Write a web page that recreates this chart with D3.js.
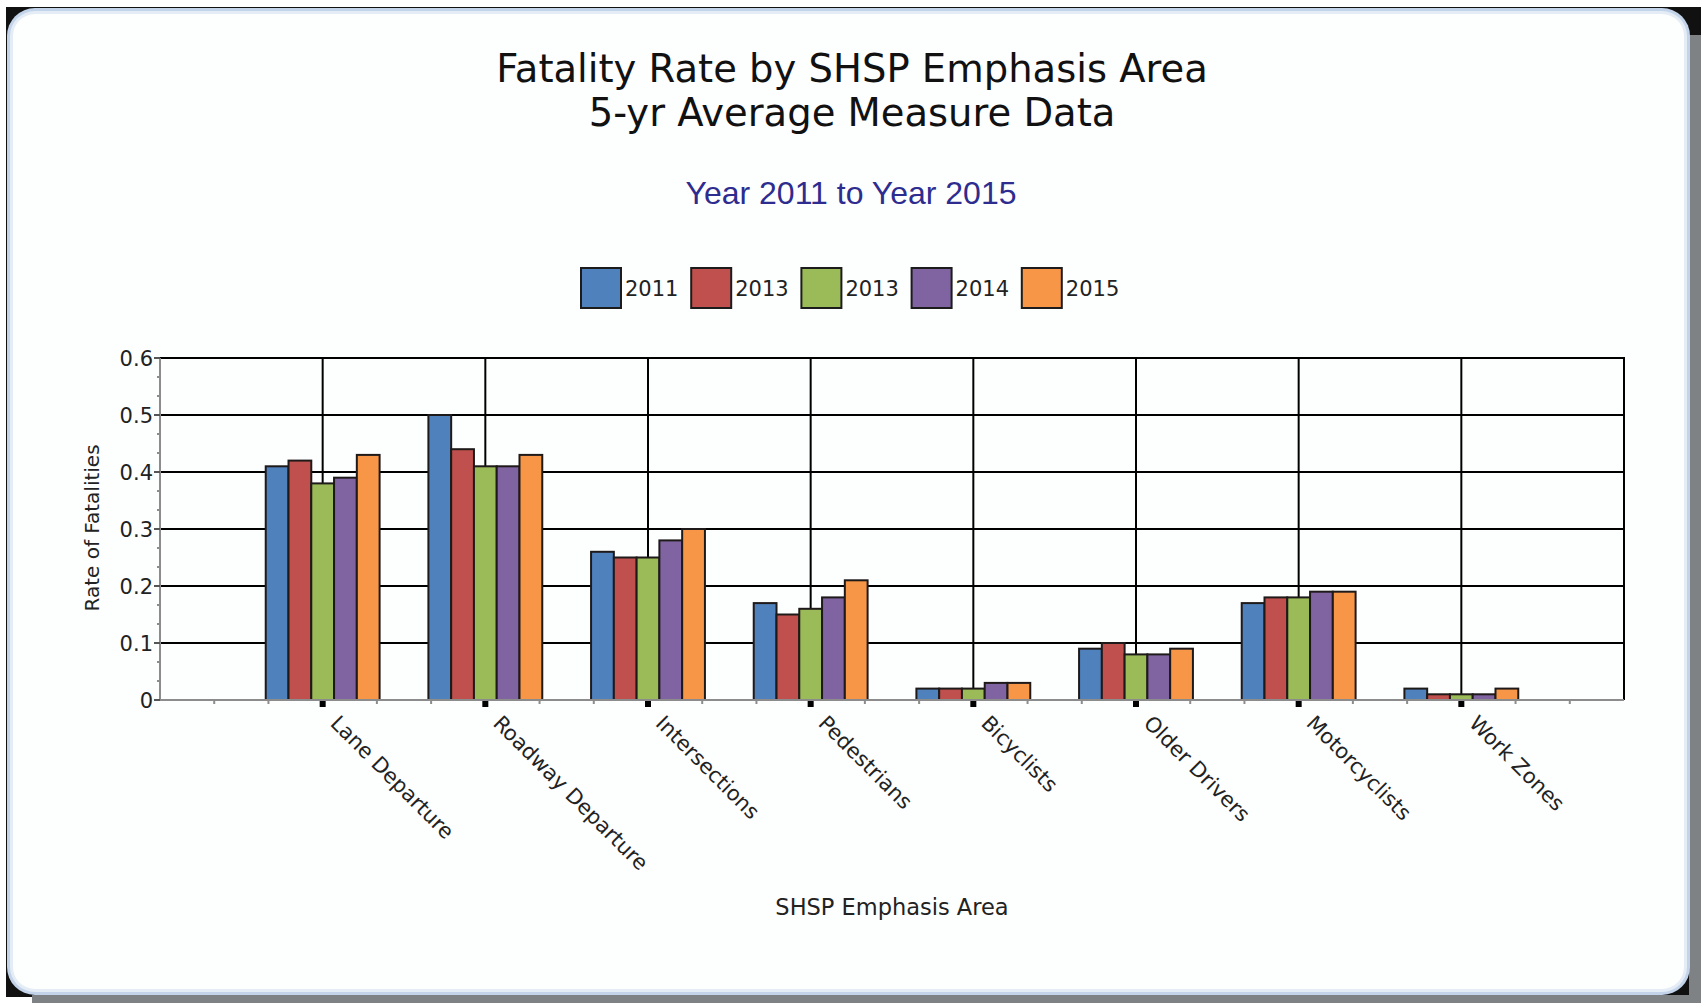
<!DOCTYPE html>
<html>
<head>
  <title>Fatality Rate by SHSP Emphasis Area</title>
  <style type="text/css">
    html, body { margin: 0; padding: 0; background: #fff; overflow: hidden; width: 1701px; height: 1003px; }
    svg { display: block; }
    .tick-label { font-family: "DejaVu Sans", sans-serif; fill: #222; }
  </style>
  <script src="https://d3js.org/d3.v7.min.js"></script>
</head>
<body>
<script>
// chart data
var categories = ["Lane Departure", "Roadway Departure", "Intersections", "Pedestrians",
                  "Bicyclists", "Older Drivers", "Motorcyclists", "Work Zones"];
var seriesNames = ["2011", "2013", "2013", "2014", "2015"];   // legend text as shown
var seriesColors = ["#4f81bd", "#c0504d", "#9bbb59", "#8064a2", "#f79646"];
var v2011 = [0.41, 0.50, 0.26, 0.17, 0.02, 0.09, 0.17, 0.02];
var v2012 = [0.42, 0.44, 0.25, 0.15, 0.02, 0.10, 0.18, 0.01];
var v2013 = [0.38, 0.41, 0.25, 0.16, 0.02, 0.08, 0.18, 0.01];
var v2014 = [0.39, 0.41, 0.28, 0.18, 0.03, 0.08, 0.19, 0.01];
var v2015 = [0.43, 0.43, 0.30, 0.21, 0.03, 0.09, 0.19, 0.02];
var yTicks = [0, 0.1, 0.2, 0.3, 0.4, 0.5, 0.6];

var seriesValues = [v2011, v2012, v2013, v2014, v2015];

var W = 1701, H = 1003;
var svg = d3.select("body").append("svg").attr("width", W).attr("height", H);

// frame / rounded panel: dark corners, gray shadow bottom + right
svg.append("rect").attr("x", 6).attr("y", 7).attr("width", 1684).attr("height", 990).attr("fill", "#111");
svg.append("rect").attr("x", 1660).attr("y", 7).attr("width", W - 1660).attr("height", 28).attr("fill", "#111");
svg.append("rect").attr("x", 32).attr("y", 995).attr("width", W - 32).attr("height", 8).attr("fill", "#7e8284");
svg.append("rect").attr("x", 1689).attr("y", 35).attr("width", 12).attr("height", H - 35).attr("fill", "#7e8284");
svg.append("rect").attr("x", 7).attr("y", 8).attr("width", 1683).attr("height", 987)
   .attr("rx", 28).attr("fill", "#c3d4ea");
svg.append("rect").attr("x", 10).attr("y", 11).attr("width", 1677).attr("height", 981)
   .attr("rx", 25).attr("fill", "#e4ecf6");
svg.append("rect").attr("x", 13).attr("y", 14).attr("width", 1671).attr("height", 975)
   .attr("rx", 22).attr("fill", "#fdfefe");

// titles
svg.append("text").attr("x", 852).attr("y", 82).attr("text-anchor", "middle")
   .style("font-family", "DejaVu Sans").style("font-size", "38.5px").attr("fill", "#111")
   .text("Fatality Rate by SHSP Emphasis Area");
svg.append("text").attr("x", 852).attr("y", 126).attr("text-anchor", "middle")
   .style("font-family", "DejaVu Sans").style("font-size", "38.5px").attr("fill", "#111")
   .text("5-yr Average Measure Data");
svg.append("text").attr("x", 851).attr("y", 204).attr("text-anchor", "middle")
   .style("font-family", "Liberation Sans").style("font-size", "32px").attr("fill", "#2e2c8f")
   .text("Year 2011 to Year 2015");

// legend
var legend = svg.append("g").selectAll("g")
    .data(seriesNames)
    .enter().append("g")
    .attr("transform", function(d, i) { return "translate(" + (581 + i * 110.2) + ",268)"; });
legend.append("rect").attr("width", 40).attr("height", 40)
    .attr("fill", function(d, i) { return seriesColors[i]; })
    .attr("stroke", "#1c1c1c").attr("stroke-width", 2);
legend.append("text").attr("x", 44).attr("y", 28)
    .style("font-family", "DejaVu Sans").style("font-size", "21px").attr("fill", "#222")
    .text(function(d) { return d; });

// scales
var plotLeft = 160, plotRight = 1624, plotTop = 358, plotBottom = 700;
var x = d3.scalePoint().domain(categories).range([plotLeft, plotRight]).padding(1);
var step = x.step();
var x1 = d3.scaleBand().domain(d3.range(seriesNames.length)).range([-0.35 * step, 0.35 * step]);
var y = d3.scaleLinear().domain([0, 0.6]).range([plotBottom, plotTop]);

// grid lines
svg.append("g").selectAll("line").data(yTicks.slice(1)).enter().append("line")
   .attr("x1", plotLeft).attr("x2", plotRight)
   .attr("y1", function(d) { return y(d); }).attr("y2", function(d) { return y(d); })
   .attr("stroke", "#000").attr("stroke-width", 2);
svg.append("g").selectAll("line").data(categories).enter().append("line")
   .attr("x1", function(d) { return x(d); }).attr("x2", function(d) { return x(d); })
   .attr("y1", plotTop).attr("y2", plotBottom)
   .attr("stroke", "#000").attr("stroke-width", 2);
svg.append("line").attr("x1", plotRight).attr("x2", plotRight).attr("y1", plotTop - 1).attr("y2", plotBottom)
   .attr("stroke", "#000").attr("stroke-width", 2);

// bars
var groups = svg.append("g").selectAll("g")
    .data(categories)
    .enter().append("g")
    .attr("transform", function(d) { return "translate(" + x(d) + ",0)"; });
groups.selectAll("rect")
    .data(function(d, ci) { return seriesValues.map(function(s, si) { return {s: si, v: s[ci]}; }); })
    .enter().append("rect")
    .attr("x", function(d) { return x1(d.s); })
    .attr("width", x1.bandwidth())
    .attr("y", function(d) { return y(d.v); })
    .attr("height", function(d) { return plotBottom - y(d.v); })
    .attr("fill", function(d) { return seriesColors[d.s]; })
    .attr("stroke", "#1f1a1a").attr("stroke-width", 2);

// y axis (gray line, major + minor ticks)
var yAxis = svg.append("g");
yAxis.append("line").attr("x1", plotLeft).attr("x2", plotLeft).attr("y1", plotTop).attr("y2", plotBottom)
     .attr("stroke", "#8c8c8c").attr("stroke-width", 2);
yAxis.selectAll(".minor").data(d3.range(0, 19)).enter().append("line")
     .attr("x1", plotLeft - 3).attr("x2", plotLeft)
     .attr("y1", function(d) { return y(d * 0.1 / 3); }).attr("y2", function(d) { return y(d * 0.1 / 3); })
     .attr("stroke", "#8c8c8c").attr("stroke-width", 2);
yAxis.selectAll(".major").data(yTicks).enter().append("line")
     .attr("x1", plotLeft - 6).attr("x2", plotLeft)
     .attr("y1", function(d) { return y(d); }).attr("y2", function(d) { return y(d); })
     .attr("stroke", "#555").attr("stroke-width", 2);
yAxis.selectAll("text").data(yTicks).enter().append("text")
     .attr("class", "tick-label")
     .attr("x", plotLeft - 7).attr("y", function(d) { return y(d); }).attr("dy", "0.36em")
     .attr("text-anchor", "end").style("font-size", "21px")
     .text(function(d) { return d === 0 ? "0" : d3.format(".1f")(d); });
svg.append("text").attr("class", "tick-label")
   .attr("transform", "translate(99,528) rotate(-90)")
   .attr("text-anchor", "middle").style("font-size", "20px")
   .text("Rate of Fatalities");

// x axis
var xAxis = svg.append("g");
xAxis.append("line").attr("x1", plotLeft).attr("x2", plotRight).attr("y1", plotBottom).attr("y2", plotBottom)
     .attr("stroke", "#8c8c8c").attr("stroke-width", 2);
xAxis.selectAll(".minor").data(d3.range(1, 27)).enter().append("line")
     .attr("x1", function(d) { return plotLeft + d * step / 3; }).attr("x2", function(d) { return plotLeft + d * step / 3; })
     .attr("y1", plotBottom).attr("y2", plotBottom + 4)
     .attr("stroke", "#8c8c8c").attr("stroke-width", 2);
xAxis.selectAll(".major").data(categories).enter().append("rect")
     .attr("x", function(d) { return x(d) - 3; }).attr("y", plotBottom + 1)
     .attr("width", 6).attr("height", 6).attr("fill", "#000");
xAxis.selectAll("text").data(categories).enter().append("text")
     .attr("class", "tick-label")
     .attr("transform", function(d) { return "translate(" + (x(d) + 17) + "," + (plotBottom + 14) + ") rotate(45)"; })
     .attr("dy", "0.7em").style("font-size", "21px")
     .text(function(d) { return d; });
svg.append("text").attr("class", "tick-label")
   .attr("x", (plotLeft + plotRight) / 2).attr("y", 915).attr("text-anchor", "middle")
   .style("font-size", "22.5px")
   .text("SHSP Emphasis Area");
</script>
</body>
</html>
